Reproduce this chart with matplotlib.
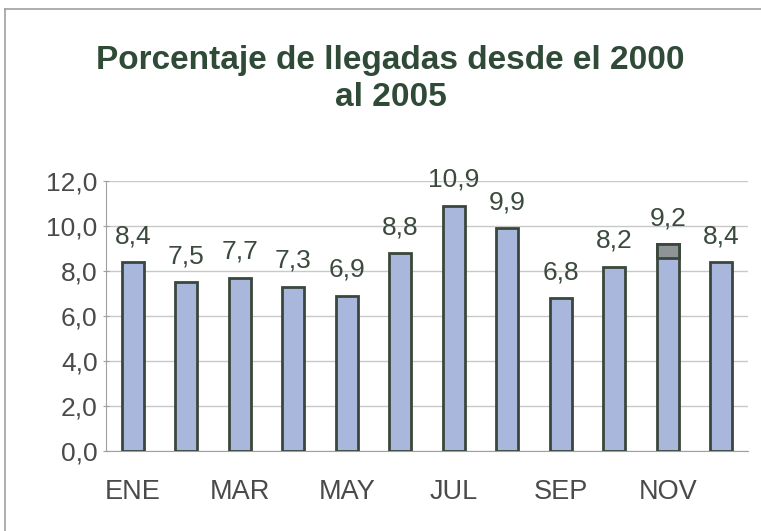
import matplotlib.pyplot as plt
from matplotlib.lines import Line2D

# data
months = ['ENE', 'FEB', 'MAR', 'ABR', 'MAY', 'JUN',
          'JUL', 'AGO', 'SEP', 'OCT', 'NOV', 'DIC']
values = [8.4, 7.5, 7.7, 7.3, 6.9, 8.8, 10.9, 9.9, 6.8, 8.2, 9.2, 8.4]
labels = ['8,4', '7,5', '7,7', '7,3', '6,9', '8,8',
          '10,9', '9,9', '6,8', '8,2', '9,2', '8,4']
# NOV bar has a darker cap in the scan (from ~8.6 up to the top)
nov_cap_start = 8.6
y_ticks = [0, 2, 4, 6, 8, 10, 12]
y_tick_labels = ['0,0', '2,0', '4,0', '6,0', '8,0', '10,0', '12,0']

plt.rcParams['font.family'] = ['Liberation Sans', 'DejaVu Sans']

fig = plt.figure(figsize=(7.61, 5.31), dpi=100)
fig.patch.set_facecolor('white')

# outer frame (left and top edges only visible)
fig.add_artist(Line2D([5 / 761, 5 / 761], [0, 1 - 9 / 531],
                      transform=fig.transFigure, color='#a0a0a0', lw=1.2))
fig.add_artist(Line2D([5 / 761, 1], [1 - 9 / 531, 1 - 9 / 531],
                      transform=fig.transFigure, color='#a0a0a0', lw=1.2))

ax = fig.add_axes([106 / 761, 80 / 531, 642 / 761, 270 / 531])

x = list(range(len(months)))
ax.bar(x, values, width=0.42, color='#aab7dc', edgecolor='#3a473c',
       linewidth=2, zorder=3)
ax.bar(x[10], values[10] - nov_cap_start, bottom=nov_cap_start, width=0.42,
       color='#8f9597', edgecolor='#3a473c', linewidth=2, zorder=3)

for xi, v, lab in zip(x, values, labels):
    ax.annotate(lab, (xi, v), xytext=(0, 10), textcoords='offset points',
                ha='center', va='bottom', fontsize=19, color='#3b4a3e')

ax.set_xlim(-0.5, len(months) - 0.5)
ax.set_ylim(0, 12)
ax.set_yticks(y_ticks)
ax.set_yticklabels(y_tick_labels)
ax.set_xticks(x[::2])
ax.set_xticklabels(months[::2])
ax.tick_params(axis='y', labelsize=19, colors='#a0a0a0', labelcolor='#4a4a4a',
               length=4, direction='inout', pad=4)
ax.tick_params(axis='x', labelsize=19.5, labelcolor='#4a4a4a', length=0, pad=20)

ax.grid(axis='y', color='#c8c8c8', lw=1, zorder=0)
for side in ['top', 'right']:
    ax.spines[side].set_visible(False)
ax.spines['left'].set_color('#a0a0a0')
ax.spines['bottom'].set_color('#a0a0a0')

fig.text(0.513, 0.852, 'Porcentaje de llegadas desde el 2000\nal 2005',
         ha='center', va='center', fontsize=24, fontweight='bold',
         color='#2f4a37', linespacing=1.25)

plt.savefig('out.png', dpi=100, facecolor=fig.get_facecolor())
